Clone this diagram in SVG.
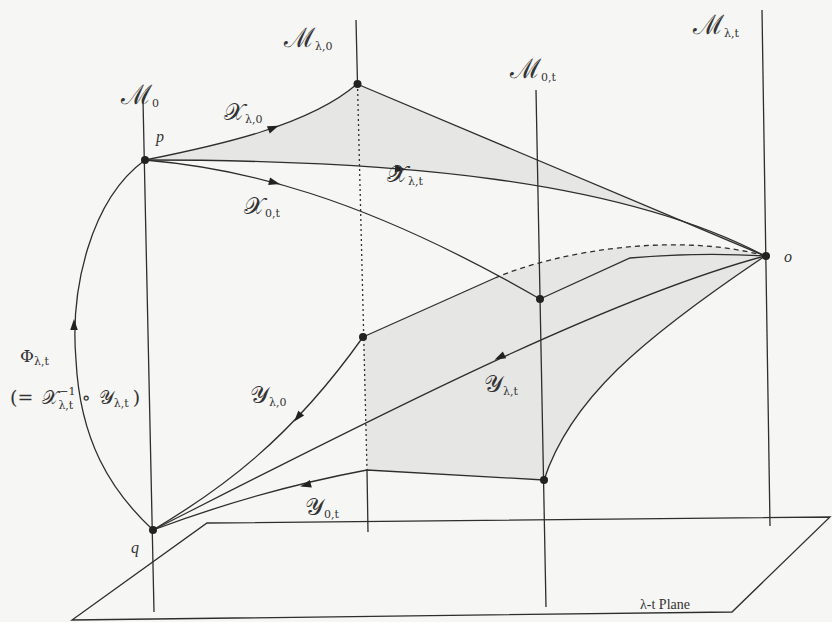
<svg xmlns="http://www.w3.org/2000/svg" xmlns:xlink="http://www.w3.org/1999/xlink" width="832" height="622" viewBox="0 0 832 622">
<style>
.ln{fill:none;stroke:#2e2e2e;stroke-width:1.3}
.dot{fill:#222}
.ah{fill:#222}
.lbl{font-family:"DejaVu Serif","Liberation Serif",serif;fill:#333}
.big{font-size:27px}
.mid{font-size:24px}
.sub{font-size:11px;font-style:normal}
.pt{font-family:"Liberation Serif",serif;font-style:italic;font-size:16px;fill:#333}
.shade{fill:#d8d8d8;opacity:0.55;stroke:none}
</style>
<defs>
<path id="ah" d="M6,0 L-5,-3.8 L-5,3.8 Z"/>
</defs>
<rect width="832" height="622" fill="#f6f6f4"/>

<g id="plane">
<polygon class="ln" points="207,523 830,517 732,612 72,620"/>
<text x="640" y="609" font-family="Liberation Serif,serif" font-size="14" fill="#333">λ-t Plane</text>
</g>

<g id="shading">
<path class="shade" d="M145,160 C220,145 310,125 357,84 L765,256 C620,180 400,160 145,160 Z"/>
<path class="shade" d="M363,337 L495,278 C560,250 680,232 765,256 C640,340 570,400 544,480 L367,470 Z"/>
</g>

<g id="axes">
<line class="ln" x1="143" y1="100" x2="154" y2="612"/>
<line class="ln" x1="356" y1="20" x2="357.5" y2="84"/>
<line class="ln" x1="357.5" y1="84" x2="367" y2="470" stroke-dasharray="2,3"/>
<line class="ln" x1="367" y1="470" x2="368" y2="532"/>
<line class="ln" x1="536" y1="90" x2="546" y2="607"/>
<line class="ln" x1="762" y1="10" x2="770" y2="526"/>
</g>

<g id="connectors">
<path class="ln" d="M145,160 C220,145 310,125 357,84"/>
<path class="ln" d="M357,84 L765,256"/>
<path class="ln" d="M145,160 C400,160 620,180 765,256"/>
<path class="ln" d="M145,160 C240,168 360,195 540,299"/>
<path class="ln" d="M540,299 L630,258 Q700,252 765,256"/>
<path class="ln" d="M363,337 L495,278"/>
<path class="ln" d="M495,278 C560,250 680,232 765,256" stroke-dasharray="5,4"/>
<path class="ln" d="M153,530 C220,490 290,440 363,337"/>
<path class="ln" d="M153,530 C350,430 600,300 765,256"/>
<path class="ln" d="M153,530 Q260,490 367,470 L544,480"/>
<path class="ln" d="M544,480 C570,400 640,340 765,256"/>
<path class="ln" d="M145,160 C90,200 70,290 76,360 C80,440 110,490 153,530"/>
<use href="#ah" class="ah" transform="translate(273,128) rotate(-22)"/>
<use href="#ah" class="ah" transform="translate(400,169) rotate(4)"/>
<use href="#ah" class="ah" transform="translate(274,182.5) rotate(14)"/>
<use href="#ah" class="ah" transform="translate(298,417) rotate(130)"/>
<use href="#ah" class="ah" transform="translate(500,357) rotate(154)"/>
<use href="#ah" class="ah" transform="translate(306,485) rotate(165)"/>
<use href="#ah" class="ah" transform="translate(74,325) rotate(-90)"/>
</g>

<g id="node-p"><circle class="dot" cx="145" cy="160" r="4"/><text class="pt" x="156" y="142">p</text></g>
<g id="node-q"><circle class="dot" cx="153" cy="530" r="4"/><text class="pt" x="131" y="553">q</text></g>
<g id="node-o"><circle class="dot" cx="766" cy="256" r="4"/><text class="pt" x="784" y="262">o</text></g>
<g id="node-a"><circle class="dot" cx="357.5" cy="84" r="4"/></g>
<g id="node-b"><circle class="dot" cx="363" cy="337" r="4"/></g>
<g id="node-c"><circle class="dot" cx="540" cy="299" r="4"/></g>
<g id="node-d"><circle class="dot" cx="544" cy="480" r="4"/></g>

<g id="labels">
<text class="lbl big" x="121" y="104">ℳ<tspan class="sub" dy="3">0</tspan></text>
<text class="lbl big" x="284" y="47">ℳ<tspan class="sub" dy="3">λ,0</tspan></text>
<text class="lbl big" x="510" y="78">ℳ<tspan class="sub" dy="3">0,t</tspan></text>
<text class="lbl big" x="693" y="34">ℳ<tspan class="sub" dy="3">λ,t</tspan></text>
<text class="lbl mid" x="224" y="120">𝒳<tspan class="sub" dy="3">λ,0</tspan></text>
<text class="lbl mid" x="387" y="182">𝒳<tspan class="sub" dy="3">λ,t</tspan></text>
<text class="lbl mid" x="244" y="214">𝒳<tspan class="sub" dy="3">0,t</tspan></text>
<text class="lbl mid" x="250" y="403">𝒴<tspan class="sub" dy="3">λ,0</tspan></text>
<text class="lbl mid" x="484" y="392">𝒴<tspan class="sub" dy="3">λ,t</tspan></text>
<text class="lbl mid" x="305" y="515">𝒴<tspan class="sub" dy="3">0,t</tspan></text>
<text class="lbl" font-size="17" x="20" y="362">Φ<tspan class="sub" dy="3">λ,t</tspan></text>
<text class="lbl" font-size="19" x="10" y="404">(= <tspan dx="3">𝒳</tspan><tspan class="sub" dy="5">λ,t</tspan><tspan class="sub" dx="-14" dy="-14">−1</tspan><tspan dx="6" dy="9">∘ </tspan><tspan dx="2">𝒴</tspan><tspan class="sub" dy="3">λ,t</tspan><tspan dx="4" dy="-3">)</tspan></text>
</g>
</svg>
